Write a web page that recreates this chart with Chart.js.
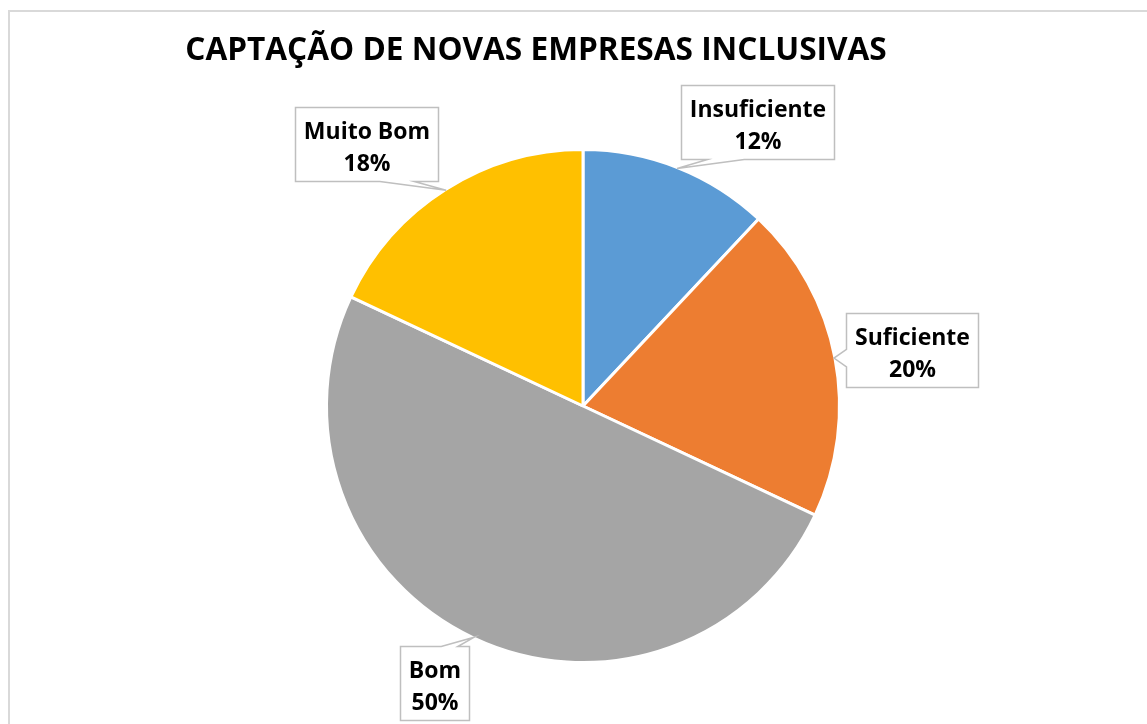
<!DOCTYPE html>
<html lang="pt">
<head>
<meta charset="utf-8">
<title>Captação de novas empresas inclusivas</title>
<script src="https://cdn.jsdelivr.net/npm/chart.js@4/dist/chart.umd.min.js"></script>
<style>
    html, body { margin: 0; padding: 0; background: #ffffff; overflow: hidden; }
    canvas { display: block; }
</style>
</head>
<body>
<canvas id="pie" width="1147" height="724" style="width:1147px;height:724px"></canvas>
<script>
"use strict";

// Chart data
const chartTitle = "CAPTAÇÃO DE NOVAS EMPRESAS INCLUSIVAS";
const categories = ["Insuficiente", "Suficiente", "Bom", "Muito Bom"];
const values = [12, 20, 50, 18];

// Slice colours (Office palette)
const sliceColors = ["#5B9BD5", "#ED7D31", "#A5A5A5", "#FFC000"];

// Where each callout box sits, relative to the point it marks on the rim
const calloutOffsets = [
    [80, -46],
    [78, -8],
    [-40, 46],
    [-80, -46],
];

const FONT = "'Open Sans', 'Noto Sans', sans-serif";

/**
 * Percentage label for one slice
 */
function pct(i) {
    const total = values.reduce(function (a, b) { return a + b; }, 0);
    return Math.round((values[i] / total) * 100) + "%";
}

/**
 * Path for a box with a pointer running out to (tx, ty)
 */
function calloutPath(ctx, left, top, w, h, tx, ty) {
    const right = left + w;
    const bottom = top + h;
    let edge;
    if (ty > bottom) edge = "bottom";
    else if (ty < top) edge = "top";
    else if (tx < left) edge = "left";
    else edge = "right";

    function base(len, start, t) {
        let f = (t - start) / len;
        f = Math.min(Math.max(f, 0.29), 0.71);
        const half = 0.12 * len;
        return [start + f * len - half, start + f * len + half];
    }

    ctx.beginPath();
    ctx.moveTo(left, top);
    if (edge === "top") {
        const b = base(w, left, tx);
        ctx.lineTo(b[0], top);
        ctx.lineTo(tx, ty);
        ctx.lineTo(b[1], top);
    }
    ctx.lineTo(right, top);
    if (edge === "right") {
        const b = base(h, top, ty);
        ctx.lineTo(right, b[0]);
        ctx.lineTo(tx, ty);
        ctx.lineTo(right, b[1]);
    }
    ctx.lineTo(right, bottom);
    if (edge === "bottom") {
        const b = base(w, left, tx);
        ctx.lineTo(b[1], bottom);
        ctx.lineTo(tx, ty);
        ctx.lineTo(b[0], bottom);
    }
    ctx.lineTo(left, bottom);
    if (edge === "left") {
        const b = base(h, top, ty);
        ctx.lineTo(left, b[1]);
        ctx.lineTo(tx, ty);
        ctx.lineTo(left, b[0]);
    }
    ctx.closePath();
}

/**
 * Frame, title and the data callouts
 */
const decorPlugin = {
    id: "decor",
    beforeDraw: function (chart) {
        const ctx = chart.ctx;
        ctx.save();
        ctx.fillStyle = "#ffffff";
        ctx.fillRect(0, 0, chart.width, chart.height);
        ctx.strokeStyle = "#d9d9d9";
        ctx.lineWidth = 2;
        ctx.strokeRect(9, 11, chart.width + 20, chart.height + 20);

        ctx.fillStyle = "#000000";
        ctx.font = "bold 31.6px " + FONT;
        ctx.textAlign = "center";
        ctx.textBaseline = "alphabetic";
        ctx.fillText(chartTitle, 536, 60);
        ctx.restore();
    },
    afterDatasetsDraw: function (chart) {
        const ctx = chart.ctx;
        const arcs = chart.getDatasetMeta(0).data;
        ctx.save();
        ctx.font = "bold 23px " + FONT;
        ctx.textAlign = "center";
        ctx.textBaseline = "alphabetic";

        arcs.forEach(function (arc, i) {
            const p = arc.getProps(["x", "y", "startAngle", "endAngle", "outerRadius"], true);
            const mid = (p.startAngle + p.endAngle) / 2;
            const r = p.outerRadius - 1;
            const tx = p.x + Math.cos(mid) * r;
            const ty = p.y + Math.sin(mid) * r;

            const lines = [categories[i], pct(i)];
            const textW = Math.max.apply(null, lines.map(function (s) {
                return ctx.measureText(s).width;
            }));
            const w = Math.round(textW + 17);
            const h = 74;
            const cx = tx + calloutOffsets[i][0];
            const cy = ty + calloutOffsets[i][1];
            const left = Math.round(cx - w / 2) + 0.5;
            const top = Math.round(cy - h / 2) + 0.5;

            calloutPath(ctx, left, top, w, h, tx, ty);
            ctx.fillStyle = "#ffffff";
            ctx.fill();
            ctx.strokeStyle = "#bfbfbf";
            ctx.lineWidth = 1.5;
            ctx.stroke();

            ctx.fillStyle = "#000000";
            ctx.fillText(lines[0], left + w / 2, top + 31);
            ctx.fillText(lines[1], left + w / 2, top + 63);
        });
        ctx.restore();
    },
};

new Chart(document.getElementById("pie"), {
    type: "pie",
    data: {
        labels: categories,
        datasets: [
            {
                data: values,
                backgroundColor: sliceColors,
                borderColor: "#ffffff",
                borderWidth: 3,
            },
        ],
    },
    options: {
        animation: false,
        responsive: false,
        devicePixelRatio: 1,
        layout: {
            padding: { left: 325, right: 306, top: 148, bottom: 60 },
        },
        plugins: {
            legend: { display: false },
            title: { display: false },
            tooltip: { enabled: false },
        },
    },
    plugins: [decorPlugin],
});
</script>
</body>
</html>
